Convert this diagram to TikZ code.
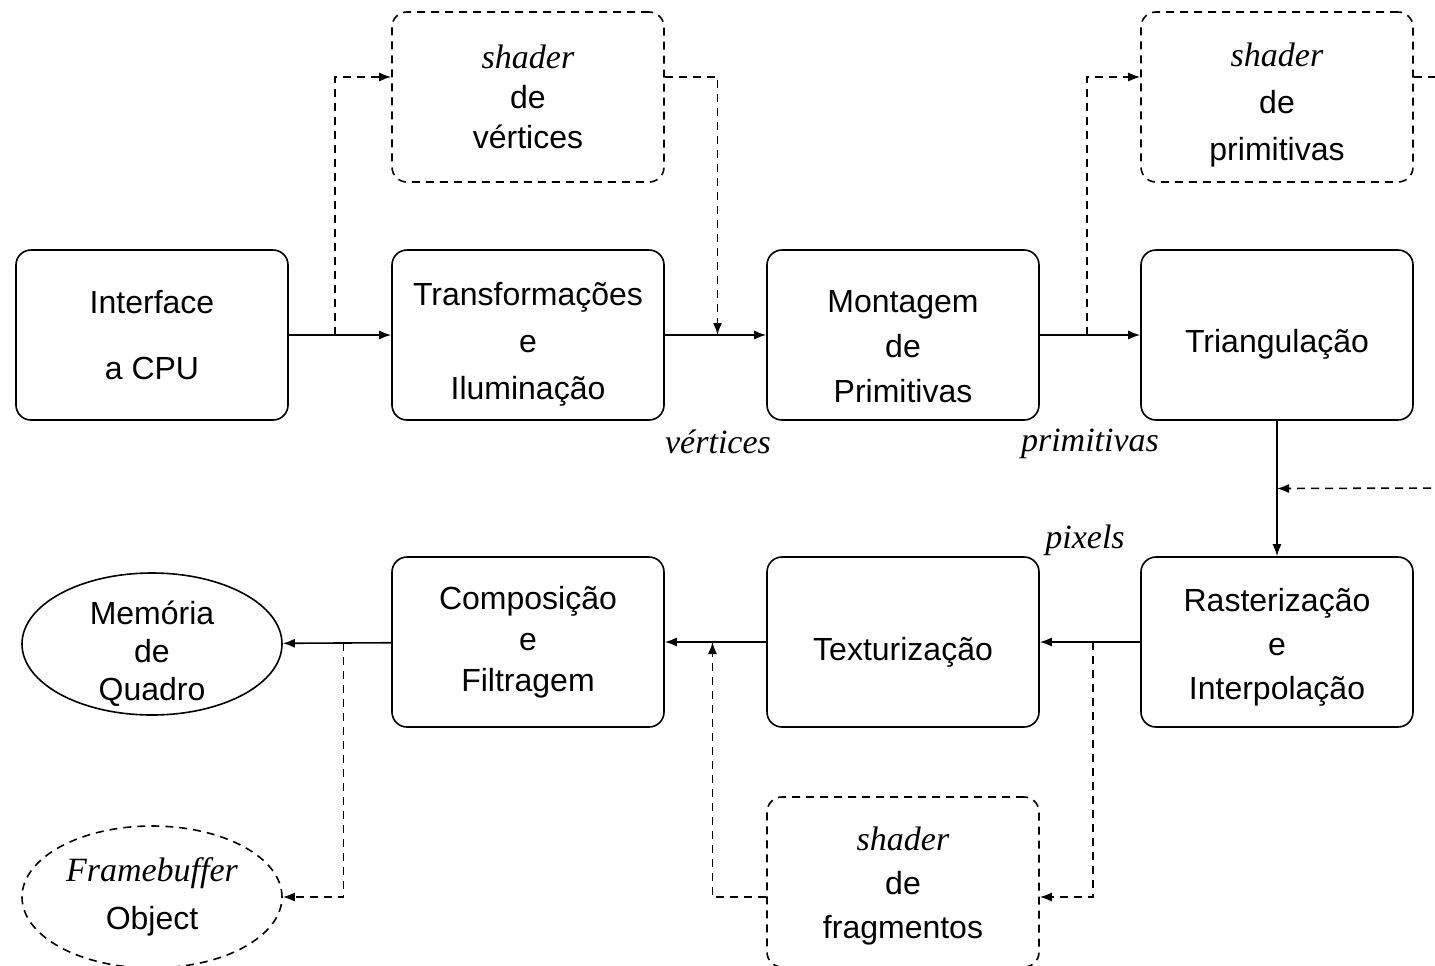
\documentclass[tikz,border=0pt]{standalone}
\usepackage{fontspec}
\setmainfont{Liberation Sans}
\newfontfamily\serifit{Liberation Serif}
\newcommand{\itl}[1]{{\serifit\itshape\fontsize{17}{20}\selectfont #1}}
\newcommand{\up}[1]{\rule{0pt}{#1}}
\usetikzlibrary{arrows.meta,positioning,shapes.geometric,calc}

\begin{document}
\begin{tikzpicture}[x=0.5pt,y=-0.5pt,line width=0.8pt,
  every node/.style={font=\fontsize{16}{19}\selectfont,align=center},
  dsh/.style={dash pattern=on 4pt off 3pt},
  blk/.style={draw,rounded corners=7.5pt,minimum width=136pt,minimum height=85pt,inner sep=0pt},
  shdbox/.style={blk,dsh},
  mem/.style={draw,ellipse,minimum width=130pt,minimum height=71pt,inner sep=0pt},
  flow/.style={-{Latex[length=6pt,width=4.5pt]}},
  aux/.style={flow,dsh}]
\useasboundingbox (0,0) rectangle (1435,965);

% first row
\node[blk] (cpu) at (152,335) {Interface\\[14pt]a CPU};
\node[blk] (tl) at (528,335) {\up{21pt}Transformações\\[4.5pt]e\\[4.5pt]Iluminação};
\node[blk] (mp) at (903,335) {\up{23pt}Montagem\\[3.5pt]de\\[3.5pt]Primitivas};
\node[blk] (tri) at (1277,335) {\up{21pt}Triangulação};

% shaders on top
\node[shdbox] (vs) at (528,97) {\itl{shader}\\[1pt]de\\[1pt]vértices};
\node[shdbox] (gs) at (1277,97) {\up{20pt}\itl{shader}\\[4.5pt]de\\[4.5pt]primitivas};

% second row
\node[blk] (ras) at (1277,642) {\up{17pt}Rasterização\\[3pt]e\\[3pt]Interpolação};
\node[blk] (tex) at (903,642) {\up{22pt}Texturização};
\node[blk] (comp) at (528,642) {Composição\\[1.5pt]e\\[1.5pt]Filtragem};
\node[mem,inner ysep=-12pt] (mqd) at (152,644) {\up{22pt}Memória\\de\\Quadro};

% bottom
\node[shdbox] (fs) at (903,882) {\up{16pt}\itl{shader}\\[3pt]de\\[3pt]fragmentos};
\node[mem,dsh] (fbo) at (152,897) {\itl{Framebuffer}\\[5pt]Object};

% labels
\node (lv) at (718,442) {\itl{vértices}};
\node (lp) at (1090,444) {\itl{primitivas}};
\node (lx) at (1085,540) {\itl{pixels}};

% connectors
\coordinate (j1) at ($(cpu.east)!0.45!(tl.west)$);
\coordinate (j2) at ($(tl.east)!0.52!(mp.west)$);
\coordinate (j3) at ($(mp.east)!0.47!(tri.west)$);
\coordinate (j4) at ($(tri.south)!0.5!(ras.north)$);
\coordinate (j5) at ($(ras.west)!0.47!(tex.east)$);
\coordinate (j6) at ($(tex.west)!0.53!(comp.east)$);
\coordinate (j7) at ($(comp.west)!0.44!(mqd.east)$);
\coordinate (gsout) at (1445,77);
\coordinate (gsin) at (1445,488);

\draw[flow] (cpu) -- (tl);
\draw[aux] (j1) |- ([yshift=10pt]vs.west);
\draw[flow] (tl) -- (mp);
\draw[aux] ([yshift=10pt]vs.east) -| (j2);
\draw[flow] (mp) -- (tri);
\draw[aux] (j3) |- ([yshift=10pt]gs.west);
\draw[dsh] ([yshift=10pt]gs.east) -- (gsout);
\draw[flow] (tri) -- (ras);
\draw[aux] (gsin) -- (j4);
\draw[flow] (ras) -- (tex);
\draw[aux] (j5) |- ([yshift=-7.5pt]fs.east);
\draw[flow] (tex) -- (comp);
\draw[aux] ([yshift=-7.5pt]fs.west) -| (j6);
\draw[flow] (comp) -- (mqd);
\draw[aux] (j7) |- (fbo);
\end{tikzpicture}
\end{document}
